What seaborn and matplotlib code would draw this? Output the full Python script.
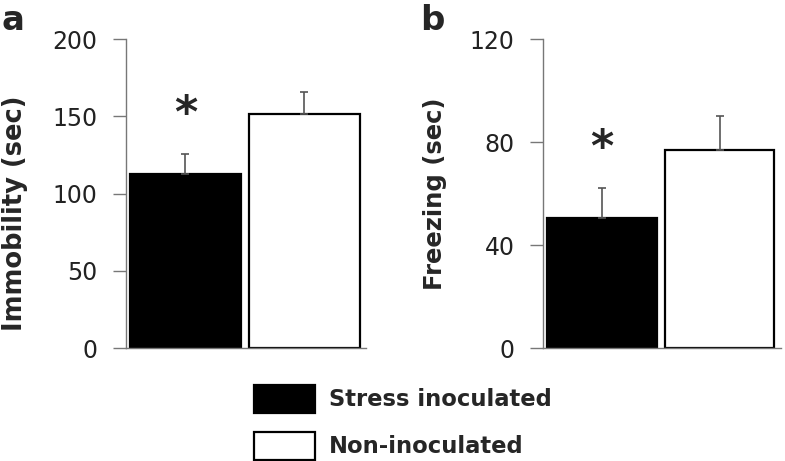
import matplotlib
matplotlib.use("Agg")
import matplotlib.pyplot as plt
import seaborn as sns
import pandas as pd

groups = ["Stress inoculated", "Non-inoculated"]
immobility = [113, 151.5]
immobility_err = [12.5, 14]
freezing = [50.5, 77]
freezing_err = [11.7, 13.2]
bar_colors = ["black", "white"]

sns.set_style("ticks")
plt.rcParams['font.family'] = ['DejaVu Sans']

df = pd.DataFrame({"group": groups, "immobility": immobility, "freezing": freezing,
                   "imm_err": immobility_err, "frz_err": freezing_err})

fig = plt.figure(figsize=(7.85, 4.61), dpi=100)
ax1 = fig.add_axes([0.1605, 0.245, 0.306, 0.67])
ax2 = fig.add_axes([0.6917, 0.245, 0.303, 0.67])

def panel(ax, col, err, ymax, ticks, ylabel, label_size, label_xy, star_y):
    sns.barplot(data=df, x="group", y=col, hue="group", palette=bar_colors,
                width=0.93, edgecolor="black", linewidth=1.6, ax=ax, legend=False,
                errorbar=None, saturation=1)
    # one-sided (upper) error bars
    ax.errorbar([0, 1], df[col], yerr=[[0, 0], df[err]], fmt="none",
                ecolor="#555555", elinewidth=1.2, capsize=3, capthick=1.2, zorder=1)
    ax.set_ylim(0, ymax)
    ax.set_xlim(-0.5, 1.52)
    ax.set_yticks(ticks)
    ax.set_xticks([])
    ax.set_xlabel("")
    ax.set_ylabel(ylabel, fontsize=label_size, fontweight="bold")
    ax.yaxis.set_label_coords(*label_xy)
    ax.tick_params(axis="y", length=9.5, width=1, color="#777777", labelsize=17,
                   labelcolor="#222222", pad=11)
    for s in ["top", "right"]:
        ax.spines[s].set_visible(False)
    for s in ["left", "bottom"]:
        ax.spines[s].set_color("#777777")
        ax.spines[s].set_linewidth(1)
    ax.text(0, star_y, "*", fontsize=32, fontweight="bold", ha="center", va="center")

panel(ax1, "immobility", "imm_err", 200, [0, 50, 100, 150, 200], "Immobility (sec)",
      18.5, (-0.408, 0.437), 151)
panel(ax2, "freezing", "frz_err", 120, [0, 40, 80, 120], "Freezing (sec)",
      17.5, (-0.402, 0.5), 77.5)

fig.text(0.002, 0.935, "a", fontsize=24.5, fontweight="bold", va="baseline")
fig.text(0.535, 0.935, "b", fontsize=24.5, fontweight="bold", va="baseline")

handles = ax1.patches[:2]
fig.legend(handles, groups, loc="upper left", bbox_to_anchor=(0.3236, 0.165),
           frameon=False, prop={"weight": "bold", "size": 16.3},
           handlelength=2.7, handleheight=1.5, labelspacing=0.86, handletextpad=0.59,
           borderpad=0, borderaxespad=0)

fig.savefig("out.png", dpi=100)
